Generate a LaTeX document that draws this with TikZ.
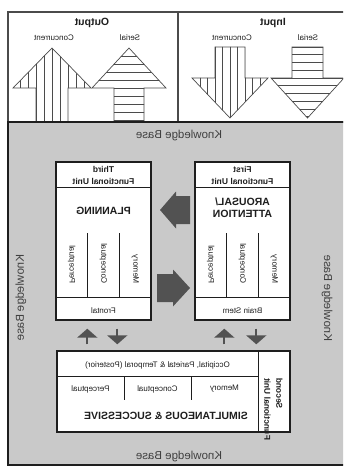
\documentclass[tikz,border=0pt]{standalone}
\usepackage{fontspec}
\setmainfont{Liberation Sans}
\usetikzlibrary{arrows.meta}
\definecolor{kbgray}{RGB}{201,201,201}
\definecolor{arrgray}{RGB}{82,82,82}
\definecolor{ink}{RGB}{30,30,30}
\tikzset{
  flipx/.style={xscale=-1},
  smalltxt/.style={flipx, inner sep=0pt, text=ink, font=\fontsize{8}{9.5}\selectfont},
  kbtxt/.style={flipx, inner sep=0pt, text=ink!85, font=\fontsize{11.5}{13}\selectfont},
  unithead/.style={smalltxt, align=center, font=\bfseries\fontsize{8.5}{12}\selectfont},
  bigtxt/.style={smalltxt, align=center, font=\bfseries\fontsize{10.5}{12}\selectfont},
  unitbox/.style={draw=ink, line width=1.4pt, fill=white, inner sep=0pt},
  divline/.style={draw=ink, line width=1pt},
  hatch/.style={draw=ink!80, line width=0.7pt},
  blockarrow/.style={fill=arrgray},
  steparrow/.style={draw=arrgray, line width=2pt, -{Triangle[width=20pt,length=9pt]}},
}
\begin{document}
\begin{tikzpicture}[x=1pt, y=-1pt]
\clip (0,0) rectangle (343,468);

% input / output panel
\draw[draw=ink!80, line width=1.1pt] (8,12) rectangle (360,122);
\draw[draw=ink!80, line width=1.1pt] (178,12) -- (178,122);

\node[bigtxt] (output) at (92,23) {Output};
\node[smalltxt] (outconc) at (54,38) {Concurrent};
\node[smalltxt] (outser) at (130,38) {Serial};
\node[bigtxt] (input) at (273,23) {Input};
\node[smalltxt] (inconc) at (232,38) {Concurrent};
\node[smalltxt] (inser) at (308,38) {Serial};

\begin{scope}
\clip (36,122) -- (36,88) -- (13,88) -- (52,48) -- (91,88) -- (68,88) -- (68,122) -- cycle;
\foreach \x in {20,28,...,84} \draw[hatch] (\x,40) -- (\x,125);
\end{scope}
\draw[hatch] (36,122) -- (36,88) -- (13,88) -- (52,48) -- (91,88) -- (68,88) -- (68,122);

\begin{scope}
\clip (114,122) -- (114,88) -- (92,88) -- (129,48) -- (166,88) -- (144,88) -- (144,122) -- cycle;
\foreach \y in {56,64,...,120} \draw[hatch] (80,\y) -- (180,\y);
\end{scope}
\draw[hatch] (114,122) -- (114,88) -- (92,88) -- (129,48) -- (166,88) -- (144,88) -- (144,122);

\begin{scope}
\clip (215,47) -- (245,47) -- (245,78) -- (268,78) -- (230,118) -- (192,78) -- (215,78) -- cycle;
\foreach \x in {200,207.5,215,222.5,230,237.5,245,252.5,260} \draw[hatch] (\x,40) -- (\x,125);
\end{scope}
\draw[hatch] (215,47) -- (245,47) -- (245,78) -- (268,78) -- (230,118) -- (192,78) -- (215,78) -- cycle;

\begin{scope}
\clip (292,47) -- (323,47) -- (323,78) -- (344,78) -- (307.5,118) -- (271,78) -- (292,78) -- cycle;
\foreach \y in {47,54.75,...,117} \draw[hatch] (260,\y) -- (350,\y);
\end{scope}
\draw[hatch] (292,47) -- (323,47) -- (323,78) -- (344,78) -- (307.5,118) -- (271,78) -- (292,78) -- cycle;

% knowledge base
\draw[fill=kbgray, draw=ink, line width=1.6pt] (8,122) rectangle (360,465);
\node[kbtxt] (kbtop) at (179,136) {Knowledge Base};
\node[kbtxt] (kbbottom) at (179,457) {Knowledge Base};
\node[kbtxt, rotate=-90] (kbleft) at (21,298) {Knowledge Base};
\node[kbtxt, rotate=90] (kbright) at (327,298) {Knowledge Base};

% functional units
\node[unitbox, minimum width=95pt, minimum height=158pt] (third) at (103.5,241) {};
\node[unitbox, minimum width=95pt, minimum height=158pt] (first) at (242.5,241) {};
\node[unitbox, minimum width=233pt, minimum height=81pt] (second) at (173.5,391.5) {};

\draw[divline] (56,187) -- (151,187);
\draw[divline] (56,297) -- (151,297);
\draw[divline] (87.7,233) -- (87.7,297);
\draw[divline] (119.3,233) -- (119.3,297);

\draw[divline] (195,187) -- (290,187);
\draw[divline] (195,297) -- (290,297);
\draw[divline] (226.7,233) -- (226.7,297);
\draw[divline] (258.3,233) -- (258.3,297);

\draw[divline] (258,351) -- (258,432);
\draw[divline] (57,376) -- (258,376);
\draw[divline] (124,376) -- (124,400);
\draw[divline] (191,376) -- (191,400);

\node[unithead] (thirdhead) at (103.5,175) {Third\\Functional Unit};
\node[bigtxt] (planning) at (103.5,211) {PLANNING};
\node[smalltxt, rotate=90, anchor=west] (thirdperc) at (71.8,284) {Perceptual};
\node[smalltxt, rotate=90, anchor=west] (thirdconc) at (103.5,284) {Conceptual};
\node[smalltxt, rotate=90, anchor=west] (thirdmem) at (135.2,284) {Memory};
\node[smalltxt] (frontal) at (103.5,311) {Frontal};

\node[unithead] (firsthead) at (242.5,175) {First\\Functional Unit};
\node[bigtxt] (arousal) at (242.5,208) {AROUSAL/\\ATTENTION};
\node[smalltxt, rotate=90, anchor=west] (firstperc) at (210.8,284) {Perceptual};
\node[smalltxt, rotate=90, anchor=west] (firstconc) at (242.5,284) {Conceptual};
\node[smalltxt, rotate=90, anchor=west] (firstmem) at (274.2,284) {Memory};
\node[smalltxt] (brainstem) at (242.5,311) {Brain Stem};

\node[smalltxt] (posterior) at (157.5,365) {Occipital, Parietal \& Temporal (Posterior)};
\node[smalltxt] (secperc) at (90.5,389) {Perceptual};
\node[smalltxt] (secconc) at (157.5,389) {Conceptual};
\node[smalltxt] (secmem) at (224.5,389) {Memory};
\node[bigtxt] (simsucc) at (166,416) {SIMULTANEOUS \& SUCCESSIVE};
\node[unithead, rotate=90, anchor=east, align=right] (secondhead) at (273.5,378) {Second\\Functional Unit};

% block arrows between first and third unit
\fill[blockarrow] (160,210) -- (176,191.5) -- (176,196) -- (190,196) -- (190,224) -- (176,224) -- (176,228.5) -- cycle;
\fill[blockarrow] (190,288) -- (173,269.5) -- (173,274) -- (157,274) -- (157,302) -- (173,302) -- (173,306.5) -- cycle;

% arrows to and from the second unit
\draw[steparrow, shorten <=6pt, shorten >=8pt] ([xshift=32pt]third.south west |- second.north) -- ([xshift=32pt]third.south west);
\draw[steparrow, shorten <=8pt, shorten >=6pt] ([xshift=62pt]third.south west) -- ([xshift=62pt]third.south west |- second.north);
\draw[steparrow, shorten <=6pt, shorten >=8pt] ([xshift=30pt]first.south west |- second.north) -- ([xshift=30pt]first.south west);
\draw[steparrow, shorten <=8pt, shorten >=6pt] ([xshift=62pt]first.south west) -- ([xshift=62pt]first.south west |- second.north);
\end{tikzpicture}
\end{document}
